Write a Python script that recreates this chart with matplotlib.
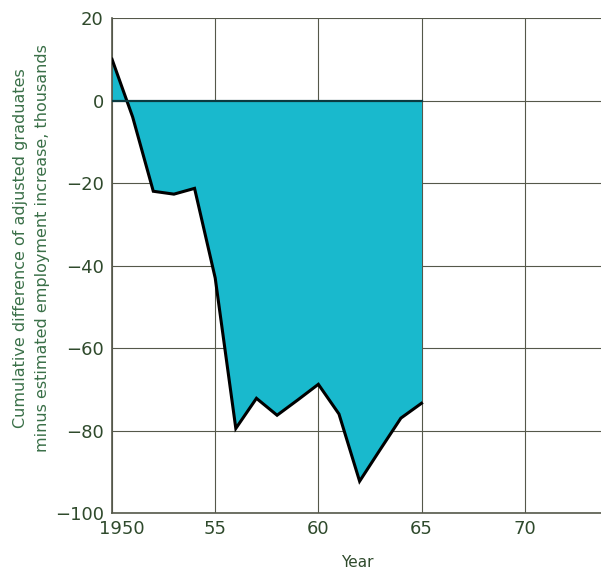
import matplotlib
matplotlib.use("Agg")
import matplotlib.pyplot as plt
import matplotlib.transforms as mtransforms

# Cumulative difference, thousands
years = [1950, 1951, 1952, 1953, 1954, 1955, 1956, 1957, 1958, 1959,
         1960, 1961, 1962, 1963, 1964, 1965]
diff = [10, -4, -22, -22.7, -21.3, -43, -79.5, -72.2, -76.3, -72.6,
        -68.8, -76, -92.3, -84.6, -77, -73.4]

x_ticks = [1950, 1955, 1960, 1965, 1970]
x_labels = ["1950", "55", "60", "65", "70"]
y_ticks = [20, 0, -20, -40, -60, -80, -100]
y_labels = ["20", "0", "\u221220", "\u221240", "\u221260", "\u221280", "\u2212100"]

FILL = "#19b9cd"
TICK_COLOR = "#2f4a2c"
LABEL_COLOR = "#3a7048"
GRID_COLOR = "#55584a"

fig = plt.figure(figsize=(6.01, 5.70), dpi=100)
ax = fig.add_axes([0.1864, 0.1, 0.8136, 0.8684])

ax.fill_between(years, diff, 0, color=FILL, linewidth=0, zorder=2)
ax.plot(years, diff, color="black", linewidth=2.2, zorder=3, solid_joinstyle="miter")
ax.plot([years[0], years[-1]], [0, 0], color="#0b3a40", linewidth=1.6, zorder=3)

ax.set_xlim(1950, 1973.7)
ax.set_ylim(-100, 20)
ax.set_xticks(x_ticks)
ax.set_xticklabels(x_labels)
ax.set_yticks(y_ticks)
ax.set_yticklabels(y_labels)
ax.grid(True, color=GRID_COLOR, linewidth=0.8, zorder=1)
ax.set_axisbelow(True)

for side in ["top", "right"]:
    ax.spines[side].set_visible(False)
for side in ["left", "bottom"]:
    ax.spines[side].set_color(GRID_COLOR)
    ax.spines[side].set_linewidth(1.2)

ax.tick_params(length=0, pad=6, labelsize=13, colors=TICK_COLOR)
ax.tick_params(axis="x", pad=5)

# nudge the 1950 label right so it clears the -100 label
first = ax.get_xticklabels()[0]
first.set_transform(first.get_transform() + mtransforms.ScaledTranslation(10 / 100, 0, fig.dpi_scale_trans))

fig.text(0.052, 0.565, "Cumulative difference of adjusted graduates\nminus estimated employment increase, thousands",
         rotation=90, ha="center", va="center", fontsize=11.5, color=LABEL_COLOR,
         linespacing=1.6)
fig.text(0.594, 0.0, "Year", ha="center", va="bottom", fontsize=11, color=TICK_COLOR)

plt.savefig("out.png", dpi=100)
